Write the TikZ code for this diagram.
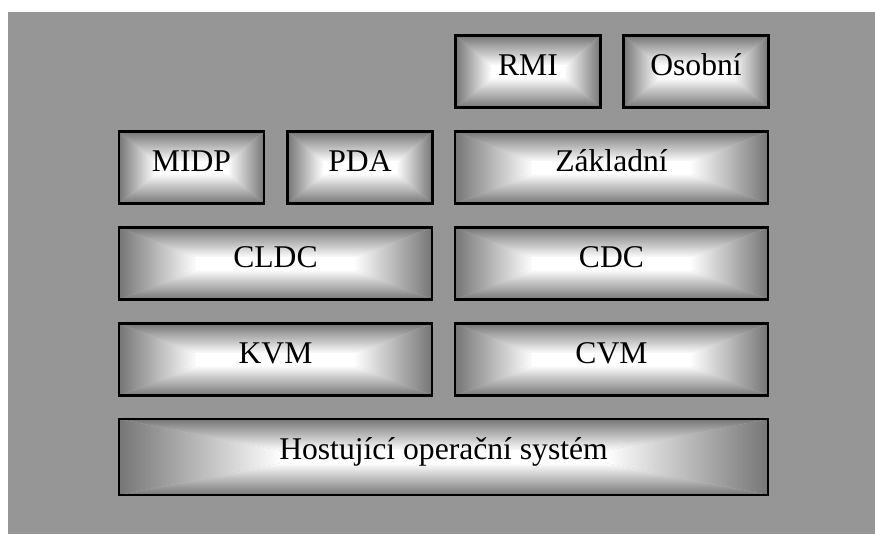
\documentclass[tikz,border=0pt]{standalone}
\usepackage{fontspec}
\setmainfont{Liberation Serif}
\usetikzlibrary{positioning,calc}
\definecolor{pozadi}{RGB}{150,150,150}
\definecolor{okraj}{RGB}{118,118,118}
\tikzset{
  vrstva/.style={draw=black, line width=1.3pt, inner sep=0pt, outer sep=0pt,
    fill=okraj!45!white, minimum width=#1*0.02cm, minimum height=1.44cm,
    font=\fontsize{18}{20}\selectfont, text height=12pt, text depth=7pt,
    path picture={
      \path let \p1=(path picture bounding box.north west), \p2=(path picture bounding box.south east),
        \n1={0.25*(\x2-\x1)}, \n2={0.42*(\y1-\y2)} in
        coordinate (vA) at (\x1,\y1) coordinate (vB) at (\x2,\y1)
        coordinate (vC) at (\x2,\y2) coordinate (vD) at (\x1,\y2)
        coordinate (iA) at ({\x1+\n1*1pt},{\y1-\n2*1pt}) coordinate (iB) at ({\x2-\n1*1pt},{\y1-\n2*1pt})
        coordinate (iC) at ({\x2-\n1*1pt},{\y2+\n2*1pt}) coordinate (iD) at ({\x1+\n1*1pt},{\y2+\n2*1pt});
      \shade[top color=okraj,bottom color=white] (vA) -- (vB) -- (iB) -- (iA) -- cycle;
      \shade[top color=white,bottom color=okraj] (vD) -- (vC) -- (iC) -- (iD) -- cycle;
      \shade[left color=okraj,right color=white] (vA) -- (vD) -- (iD) -- (iA) -- cycle;
      \shade[left color=white,right color=okraj] (vB) -- (vC) -- (iC) -- (iB) -- cycle;
      \fill[white] ($(iA)+(-0.6pt,0.6pt)$) rectangle ($(iC)+(0.6pt,-0.6pt)$);
    }},
  vrstva/.default=145
}

\begin{document}
\begin{tikzpicture}[x=0.02cm,y=-0.02cm]
\useasboundingbox (0,0) rectangle (875,534);
\fill[pozadi] (8,12) rectangle (875,534);
% horni rada
\node[vrstva] (rmi) at (528,71.5) {RMI};
\node[vrstva] (osobni) at (696,71.5) {Osobní};
% profily
\node[vrstva] (midp) at (191.5,167.5) {MIDP};
\node[vrstva] (pda) at (360,167.5) {PDA};
\node[vrstva=313] (zakladni) at (611.5,167.5) {Základní};
% konfigurace
\node[vrstva=313] (cldc) at (275.5,263.5) {CLDC};
\node[vrstva=313] (cdc) at (611.5,263.5) {CDC};
% virtualni stroje
\node[vrstva=313] (kvm) at (275.5,359.5) {KVM};
\node[vrstva=313] (cvm) at (611.5,359.5) {CVM};
\node[vrstva=649, minimum height=1.52cm, text depth=9pt] (os) at (443.5,457) {Hostující operační systém};
\end{tikzpicture}
\end{document}
